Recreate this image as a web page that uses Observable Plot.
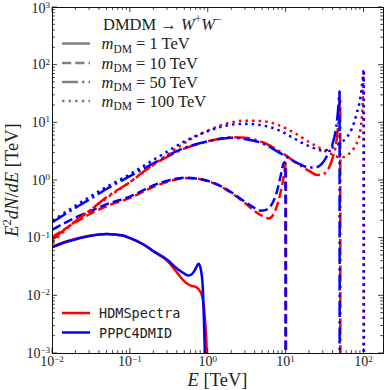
<!DOCTYPE html>
<html><head><meta charset="utf-8">
<script src="https://cdn.jsdelivr.net/npm/d3@7"></script>
<script src="https://cdn.jsdelivr.net/npm/@observablehq/plot@0.6"></script>
<style>body{margin:0;background:#fff}#chart{width:390px;height:390px}</style>
</head><body><div id="chart"></div>
<script>
// ---- data (E in TeV, E^2 dN/dE in TeV) ----
const hdm1E  = [0.01,0.015,0.02,0.03,0.05,0.08,0.1,0.15,0.2,0.3,0.4,0.5,0.6,0.7,0.8,0.85,0.88,0.9,0.93,0.95,0.97];
const hdm1Y  = [0.072,0.088,0.098,0.11,0.118,0.111,0.099,0.076,0.058,0.040,0.025,0.0175,0.015,0.0142,0.0115,0.0089,0.0063,0.0045,0.0025,0.0014,0.0005];
const pppc1E = [0.01,0.015,0.02,0.03,0.05,0.08,0.1,0.15,0.2,0.3,0.4,0.5,0.55,0.6,0.65,0.7,0.75,0.8,0.85,0.88,0.9,0.92];
const pppc1Y = [0.07,0.086,0.096,0.109,0.118,0.111,0.1,0.077,0.059,0.042,0.0295,0.024,0.0225,0.0232,0.026,0.031,0.036,0.0295,0.0142,0.0037,0.0013,0.0004];

const hdm10E  = [0.01,0.02,0.03,0.05,0.1,0.2,0.3,0.5,0.7,1,1.5,2,3,4,5,6,7,8,9,9.6,9.95,9.98];
const hdm10Y  = [0.105,0.19,0.26,0.36,0.5,0.78,0.95,1.1,1.08,0.97,0.77,0.6,0.4,0.29,0.24,0.22,0.27,0.45,0.9,1.5,1.95,0.0001];
const pppc10E = [0.01,0.02,0.03,0.05,0.1,0.2,0.3,0.5,0.7,1,1.5,2,3,4,4.7,5.5,6.5,7.5,8.5,9.2,9.5,9.8,9.83];
const pppc10Y = [0.14,0.23,0.29,0.39,0.53,0.83,0.99,1.12,1.08,0.98,0.78,0.62,0.42,0.33,0.30,0.31,0.38,0.6,1.2,1.9,2.1,1.6,0.0001];

const hdm50E  = [0.01,0.02,0.03,0.05,0.1,0.15,0.2,0.3,0.5,1,1.5,2,3,5,8,10,14,20,25,30,35,40,44,47,49.5,49.7];
const hdm50Y  = [0.095,0.2,0.3,0.52,0.95,1.45,1.9,2.6,3.6,4.8,5.4,5.65,5.5,4.6,3.3,2.7,1.95,1.45,1.25,1.3,1.6,2.6,4.5,10,26,0.0001];
const pppc50E = [0.01,0.02,0.03,0.05,0.1,0.2,0.3,0.5,1,1.5,2,3,5,8,10,14,20,25,30,35,40,44,47,48.5,48.7];
const pppc50Y = [0.19,0.34,0.47,0.72,1.2,2.0,2.7,3.7,4.8,5.3,5.5,5.2,4.4,3.1,2.6,2.0,1.68,1.72,2.1,3.0,4.6,8.5,20,35,0.0001];

const hdm100E  = [0.01,0.02,0.03,0.05,0.1,0.2,0.3,0.5,1,1.5,2,3,5,8,12,20,30,40,50,60,70,80,90,96,99.5,99.7];
const hdm100Y  = [0.085,0.2,0.3,0.5,0.95,1.9,2.8,4.5,7.4,9.2,10.2,10.9,10.7,9.1,7.0,4.6,3.4,2.8,2.5,2.7,3.3,4.3,7.5,20,75,0.0001];
const pppc100E = [0.01,0.02,0.03,0.05,0.1,0.2,0.3,0.5,1,1.5,2,3,5,8,12,20,30,40,50,60,70,80,90,96,99,99.2];
const pppc100Y = [0.2,0.37,0.52,0.78,1.3,2.3,3.2,4.8,7.2,8.6,9.3,9.6,9.0,7.5,5.6,3.9,3.3,3.8,4.5,5.6,8,14,28,55,85,0.0001];

const sources = ["HDMSpectra", "PPPC4DMID"];
const sourceColors = ["red", "blue"];
const masses = ["1", "10", "50", "100"];
const dashes = ["none", "9.25,4", "16,4,2.5,4", "2.5,4.1"];
const xTickExps = [-2, -1, 0, 1, 2];
const yTickExps = [-3, -2, -1, 0, 1, 2, 3];

const series = [
  [hdm1E, hdm1Y, 0, 0], [pppc1E, pppc1Y, 1, 0],
  [hdm10E, hdm10Y, 0, 1], [pppc10E, pppc10Y, 1, 1],
  [hdm50E, hdm50Y, 0, 2], [pppc50E, pppc50Y, 1, 2],
  [hdm100E, hdm100Y, 0, 3], [pppc100E, pppc100Y, 1, 3]
];

const SERIF = "'Liberation Serif','DejaVu Serif',serif";
const MONO = "'DejaVu Sans Mono','Liberation Mono',monospace";

const lineMarks = series.map(([E, Y, s, m]) =>
  Plot.line(E.map((e, i) => ({E: e, V: Y[i]})), {
    x: "E", y: "V", stroke: sourceColors[s], strokeWidth: 2.5,
    strokeDasharray: dashes[m], strokeLinecap: "butt", strokeLinejoin: "round",
    curve: "monotone-x", clip: true
  })
);

const chart = Plot.plot({
  width: 390, height: 390,
  marginLeft: 52, marginRight: 7, marginTop: 7, marginBottom: 37,
  x: {type: "log", domain: [0.01, 178], axis: null},
  y: {type: "log", domain: [1e-3, 1e3], axis: null},
  marks: [...lineMarks, Plot.frame({stroke: "#111", strokeWidth: 1})]
});
document.getElementById("chart").appendChild(chart);

const sx = chart.scale("x"), sy = chart.scale("y");
const svg = d3.select(chart);
const X0 = sx.apply(0.01), X1 = sx.apply(178), Y0 = sy.apply(1e-3), Y1 = sy.apply(1e3);
const g = svg.append("g").attr("stroke", "#111").attr("stroke-width", 0.8);
for (let e = -2; e <= 2; e++) {
  for (let k = 1; k <= 9; k++) {
    const v = k * Math.pow(10, e);
    if (v > 178) continue;
    const px = sx.apply(v), L = k === 1 ? 5 : 2.8;
    g.append("line").attr("x1", px).attr("x2", px).attr("y1", Y0).attr("y2", Y0 - L);
    g.append("line").attr("x1", px).attr("x2", px).attr("y1", Y1).attr("y2", Y1 + L);
  }
}
for (let e = -3; e <= 3; e++) {
  for (let k = 1; k <= 9; k++) {
    const v = k * Math.pow(10, e);
    if (v > 1000) continue;
    const py = sy.apply(v), L = k === 1 ? 5 : 2.8;
    g.append("line").attr("y1", py).attr("y2", py).attr("x1", X0).attr("x2", X0 + L);
    g.append("line").attr("y1", py).attr("y2", py).attr("x1", X1).attr("x2", X1 - L);
  }
}
const expStr = e => e < 0 ? "\u2212" + (-e) : String(e);
function powLabel(x, y, exp, anchor) {
  const t = svg.append("text").attr("x", x).attr("y", y).attr("text-anchor", anchor)
    .attr("font-family", SERIF).attr("font-size", 14).attr("fill", "#222");
  t.append("tspan").text("10");
  t.append("tspan").attr("dy", -4.5).attr("font-size", 9).text(expStr(exp));
}
xTickExps.forEach(e => powLabel(sx.apply(Math.pow(10, e)), 366, e, "middle"));
yTickExps.forEach(e => powLabel(50, Math.max(sy.apply(Math.pow(10, e)) + 4.5, 12.5), e, "end"));

// axis labels
const xl = svg.append("text").attr("x", (X0 + X1) / 2).attr("y", 386).attr("text-anchor", "middle")
  .attr("font-family", SERIF).attr("font-size", 18.5).attr("fill", "#222");
xl.append("tspan").attr("font-style", "italic").text("E");
xl.append("tspan").text(" [TeV]");
const yl = svg.append("text").attr("transform", `translate(18,${(Y0 + Y1) / 2}) rotate(-90)`)
  .attr("text-anchor", "middle").attr("font-family", SERIF).attr("font-size", 18.5).attr("fill", "#222");
yl.append("tspan").attr("font-style", "italic").text("E");
yl.append("tspan").attr("dy", -7).attr("font-size", 12.5).text("2");
yl.append("tspan").attr("dy", 7).attr("font-style", "italic").text("dN");
yl.append("tspan").text("/");
yl.append("tspan").attr("font-style", "italic").text("dE");
yl.append("tspan").text(" [TeV]");

// mass legend
const lg = svg.append("g").attr("font-family", SERIF).attr("fill", "#222").attr("text-anchor", "start");
const tt = lg.append("text").attr("x", 103).attr("y", 29.5).attr("font-size", 16.5).attr("text-anchor", "start");
tt.append("tspan").text("DMDM \u2192 ");
tt.append("tspan").attr("font-style", "italic").text("W");
tt.append("tspan").attr("dy", -7).attr("font-size", 11.5).text("+");
tt.append("tspan").attr("dy", 7).attr("font-style", "italic").text("W");
tt.append("tspan").attr("dy", -7).attr("font-size", 11.5).text("\u2212");
const legY = [43.5, 63, 82, 101];
masses.forEach((m, i) => {
  lg.append("line").attr("x1", 62).attr("x2", 90).attr("y1", legY[i]).attr("y2", legY[i])
    .attr("stroke", "#808080").attr("stroke-width", 2.5).attr("stroke-dasharray", dashes[i]);
  const t = lg.append("text").attr("x", 101.5).attr("y", legY[i] + 5.5).attr("font-size", 16.5).attr("text-anchor", "start");
  t.append("tspan").attr("font-style", "italic").text("m");
  t.append("tspan").attr("dy", 3.5).attr("font-size", 11.5).text("DM");
  t.append("tspan").attr("dy", -3.5).text(` = ${m} TeV`);
});
// source legend
const srcY = [313, 332.5];
sources.forEach((s, i) => {
  svg.append("line").attr("x1", 62).attr("x2", 90).attr("y1", srcY[i]).attr("y2", srcY[i])
    .attr("stroke", sourceColors[i]).attr("stroke-width", 2.5);
  svg.append("text").attr("x", 99).attr("y", srcY[i] + 5).attr("font-family", MONO)
    .attr("text-anchor", "start").attr("font-size", 13.5).attr("fill", "#222").text(s);
});
</script></body></html>
